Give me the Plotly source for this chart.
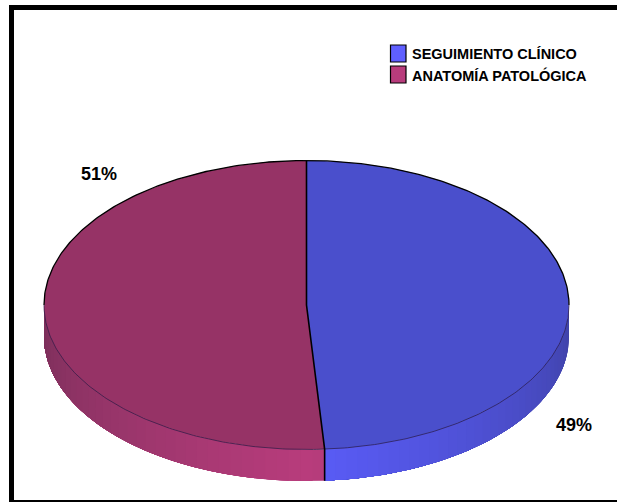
import math
import plotly.graph_objects as go

categories = ["SEGUIMIENTO CLÍNICO", "ANATOMÍA PATOLÓGICA"]
shares = [48.9, 51.1]
labels = ["49%", "51%"]

top_colors = ["#4a4fcc", "#963366"]
legend_colors = ["#5f5fff", "#b83c7c"]
side_dark = [(0x3f, 0x42, 0xa6), (0x7a, 0x2f, 0x5a)]
side_bright = [(0x5a, 0x5c, 0xf8), (0xb8, 0x3c, 0x7c)]

W, H = 617, 502
CX, CY, RX, RY, DEPTH = 306.5, 305.0, 262.5, 144.5, 31.5


def pt(theta, dy=0.0):
    return CX + RX * math.sin(theta), CY - RY * math.cos(theta) + dy


def arc(a, b, dy=0.0, n=120):
    steps = [a + (b - a) * i / n for i in range(n + 1)]
    xy = [pt(t, dy) for t in steps]
    return [p[0] for p in xy], [p[1] for p in xy]


def rgb(c):
    return "rgb(%d,%d,%d)" % tuple(round(v) for v in c)


def mix(c1, c2, f):
    return tuple(u + (v - u) * f for u, v in zip(c1, c2))


fig = go.Figure()
total = sum(shares)
cut = 2 * math.pi * shares[0] / total
sector = [(0.0, cut), (cut, 2 * math.pi)]
front_mid = math.pi

# side wall, lower half only: each band runs on to the end of its sector and the
# next band paints over it, so no background shows between neighbouring bands
for idx, (a, b) in enumerate(sector):
    lo, hi = max(a, math.pi / 2), min(b, 3 * math.pi / 2)
    bands = 36
    for k in range(bands):
        t0 = lo + (hi - lo) * k / bands
        t1 = lo + (hi - lo) * (k + 1) / bands
        f = min(1.0, abs((t0 + t1) / 2 - front_mid) / (math.pi / 2))
        col = rgb(mix(side_bright[idx], side_dark[idx], f))
        xa, ya = arc(t0, hi, 0.0, 60)
        xb, yb = arc(hi, t0, DEPTH, 60)
        fig.add_trace(go.Scatter(
            x=xa + xb, y=ya + yb, mode="lines", fill="toself",
            fillcolor=col, line=dict(width=0),
            hoverinfo="skip", showlegend=False))

# top faces
for idx, (a, b) in enumerate(sector):
    xa, ya = arc(a, b)
    fig.add_trace(go.Scatter(
        x=[CX] + xa + [CX], y=[CY] + ya + [CY], mode="lines", fill="toself",
        fillcolor=top_colors[idx], line=dict(width=0),
        hoverinfo="skip", showlegend=False))

# outlines
xa, ya = arc(-math.pi / 2, math.pi / 2, 0.0, 240)
fig.add_trace(go.Scatter(x=xa, y=ya, mode="lines", line=dict(color="#000", width=1.3),
                         hoverinfo="skip", showlegend=False))
xa, ya = arc(math.pi / 2, 3 * math.pi / 2, 0.0, 240)
fig.add_trace(go.Scatter(x=xa, y=ya, mode="lines", line=dict(color="#2a1a45", width=0.7),
                         hoverinfo="skip", showlegend=False))
cx_end, cy_end = pt(cut)
fig.add_trace(go.Scatter(x=[CX, CX, cx_end, cx_end], y=[pt(0)[1], CY, cy_end, cy_end + DEPTH],
                         mode="lines", line=dict(color="#000", width=1.6),
                         hoverinfo="skip", showlegend=False))

# legend block
swatch_rows = [53.5, 74.5]
text_rows = [54, 75.5]
for name, col, srow, trow in zip(categories, legend_colors, swatch_rows, text_rows):
    fig.add_shape(type="rect", xref="x", yref="y", x0=390.5, x1=406, y0=srow - 8.5, y1=srow + 8.5,
                  fillcolor=col, line=dict(color="#000", width=1.2), layer="above")
    fig.add_annotation(x=410, y=trow, xanchor="left", text="<b>%s</b>" % name, showarrow=False,
                       font=dict(family="Liberation Sans", size=14.5, color="#000"))

fig.add_annotation(x=98.5, y=173.5, text="<b>%s</b>" % labels[1], showarrow=False,
                   font=dict(family="Liberation Sans", size=18, color="#000"))
fig.add_annotation(x=574, y=424.5, text="<b>%s</b>" % labels[0], showarrow=False,
                   font=dict(family="Liberation Sans", size=18, color="#000"))

# frame
frame = dict(type="rect", xref="x", yref="y", fillcolor="#000", line=dict(width=0), layer="above")
fig.add_shape(x0=9, x1=14, y0=5, y1=H, **frame)
fig.add_shape(x0=9, x1=W, y0=5, y1=10, **frame)
fig.add_shape(x0=9, x1=W, y0=500, y1=H, **frame)

fig.update_layout(
    width=W, height=H, margin=dict(l=0, r=0, t=0, b=0), showlegend=False,
    paper_bgcolor="#fff", plot_bgcolor="#fff",
    xaxis=dict(range=[0, W], visible=False, fixedrange=True),
    yaxis=dict(range=[H, 0], visible=False, fixedrange=True),
    font=dict(family="Liberation Sans", color="#000"),
)
fig.write_html("out.html", config={"displayModeBar": False},
               post_script="document.body.style.margin='0';")
